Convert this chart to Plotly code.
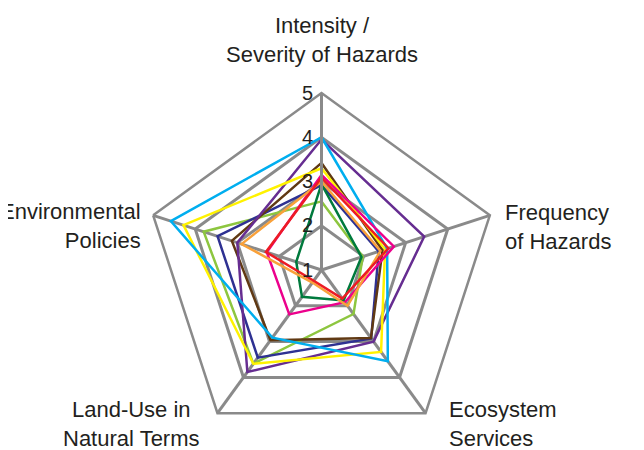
import plotly.graph_objects as go

categories = ["Intensity /<br>Severity of Hazards", "Frequency<br>of Hazards",
              "Ecosystem<br>Services", "Land-Use in<br>Natural Terms",
              "Environmental<br>Policies"]

series_names = ["Series 1", "Series 2", "Series 3", "Series 4", "Series 5",
                "Series 6", "Series 7", "Series 8", "Series 9", "Series 10"]

s_cyan = [4.00, 2.56, 3.55, 2.89, 4.58]
s_purple = [3.95, 3.44, 3.00, 3.85, 3.00]
s_brown = [3.42, 2.45, 2.90, 2.96, 3.13]
s_yellow = [3.30, 2.51, 3.29, 3.62, 4.28]
s_magenta = [3.15, 2.72, 1.90, 2.24, 2.30]
s_red = [3.09, 2.59, 1.80, 1.30, 2.32]
s_orange = [3.00, 2.40, 2.00, 1.35, 2.90]
s_darkgreen = [2.94, 1.95, 1.85, 1.75, 1.60]
s_navy = [2.92, 2.36, 2.91, 3.45, 3.47]
s_lightgreen = [2.55, 1.98, 2.23, 3.62, 3.80]

radial_ticks = [1, 2, 3, 4, 5]

all_series = [s_lightgreen, s_navy, s_brown, s_purple, s_yellow, s_cyan,
              s_darkgreen, s_magenta, s_orange, s_red]
colors = ["#8DC63F", "#2E3192", "#603913", "#662D91", "#FFF200", "#00AEEF",
          "#007A3D", "#EC008C", "#F9A13A", "#ED1C24"]

fig = go.Figure()
for name, vals, col in zip(series_names, all_series, colors):
    fig.add_trace(go.Scatterpolar(
        r=vals + vals[:1],
        theta=categories + categories[:1],
        mode="lines",
        line=dict(color=col, width=2.5),
        name=name,
        showlegend=False,
    ))

W, H = 644, 450
ML, MR, MT, MB = 0, 17, 85, 11
grid = "#8A8A8A"
txt = "#231F20"


def px(x, y):
    return (x - ML) / (W - ML - MR), 1 - (y - MT) / (H - MT - MB)


# category label placement (figure pixels)
label_pos = [(314, 32, "center", "center"), (495, 219, "left", "left"),
             (439, 416, "left", "left"), (123, 416, "center", "center"),
             (135, 218, "right", "right")]
annotations = []
for text, (lx, ly, xa, al) in zip(categories, label_pos):
    ax_, ay_ = px(lx, ly)
    annotations.append(dict(
        text=text, x=ax_, y=ay_, xref="paper", yref="paper",
        xanchor=xa, yanchor="middle", align=al, showarrow=False,
        font=dict(size=22, color=txt),
    ))

fig.update_layout(
    width=W, height=H,
    margin=dict(l=ML, r=MR, t=MT, b=MB),
    paper_bgcolor="white",
    font=dict(family="Liberation Sans, Arial, sans-serif", color=txt),
    annotations=annotations,
    polar=dict(
        bgcolor="white",
        gridshape="linear",
        radialaxis=dict(
            range=[1, 5], tickvals=radial_ticks, showline=True,
            linecolor=grid, linewidth=3, gridcolor=grid, gridwidth=2.5,
            ticks="", angle=90, side="counterclockwise", tickangle=90,
            tickfont=dict(size=20, color=txt),
        ),
        angularaxis=dict(
            rotation=90, direction="clockwise",
            showline=True, linecolor=grid, linewidth=2.5,
            gridcolor=grid, gridwidth=2.5, ticks="",
            showticklabels=False,
        ),
    ),
)

fig.write_html("out.html")
